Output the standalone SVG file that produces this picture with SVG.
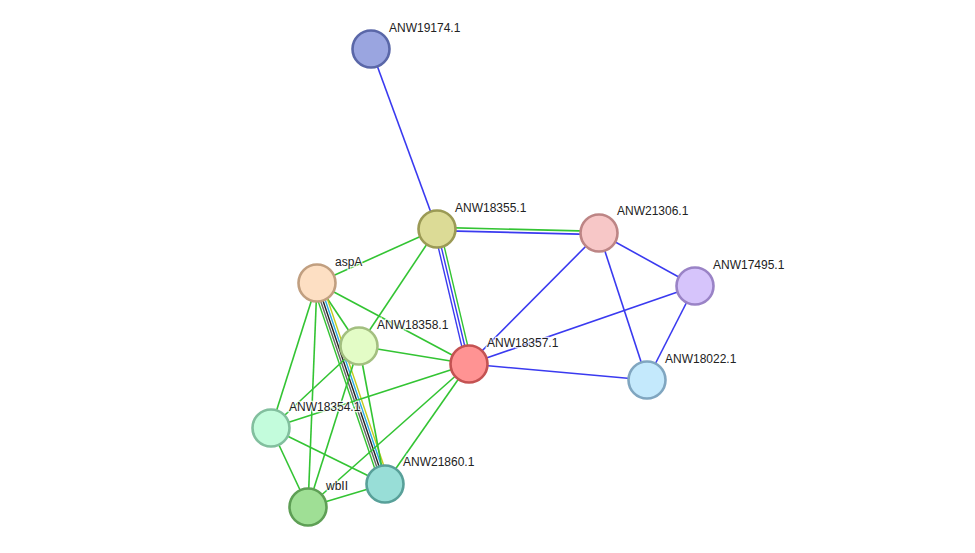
<svg xmlns="http://www.w3.org/2000/svg" width="975" height="553" viewBox="0 0 975 553">
<style>
.e{stroke-width:1.6;fill:none}
.m{stroke-width:1.4}
.g{stroke:#33c433}
.b{stroke:#3a3af0}
.n{stroke-width:2.6}
.t{font-family:"Liberation Sans",Arial,sans-serif;font-size:12px;fill:#222;stroke:#fff;stroke-width:2.5;stroke-opacity:0.8;paint-order:stroke}
</style>
<rect width="975" height="553" fill="#fff"/>
<g id="edges">
<line class="e b" x1="371" y1="49" x2="437" y2="229"/>
<line class="e g" x1="437" y1="227.4" x2="599" y2="231.4"/>
<line class="e b" x1="437" y1="230.6" x2="599" y2="234.6"/>
<line class="e m b" x1="434.1" y1="229.7" x2="466.1" y2="364.7"/>
<line class="e m b" x1="437" y1="229" x2="469" y2="364"/>
<line class="e m g" x1="439.9" y1="228.3" x2="471.9" y2="363.3"/>
<line class="e g" x1="437" y1="229" x2="317" y2="283"/>
<line class="e g" x1="437" y1="229" x2="359" y2="346"/>
<line class="e b" x1="599" y1="233" x2="469" y2="364"/>
<line class="e b" x1="599" y1="233" x2="695" y2="286"/>
<line class="e b" x1="599" y1="233" x2="647" y2="380"/>
<line class="e b" x1="695" y1="286" x2="469" y2="364"/>
<line class="e b" x1="695" y1="286" x2="647" y2="380"/>
<line class="e b" x1="469" y1="364" x2="647" y2="380"/>
<line class="e g" x1="317" y1="283" x2="469" y2="364"/>
<line class="e g" x1="317" y1="283" x2="359" y2="346"/>
<line class="e g" x1="317" y1="283" x2="271" y2="428"/>
<line class="e g" x1="317" y1="283" x2="308" y2="507"/>
<line class="e m g" x1="312.5" y1="284.5" x2="380.5" y2="485.5"/>
<line class="e m" stroke="#666" x1="314.8" y1="283.7" x2="382.8" y2="484.7"/>
<line class="e m" stroke="#222" x1="317" y1="283" x2="385" y2="484"/>
<line class="e m" stroke="#29abe2" x1="319.2" y1="282.3" x2="387.2" y2="483.3"/>
<line class="e m" stroke="#c4cc1e" x1="321.5" y1="281.5" x2="389.5" y2="482.5"/>
<line class="e g" x1="359" y1="346" x2="469" y2="364"/>
<line class="e g" x1="359" y1="346" x2="271" y2="428"/>
<line class="e g" x1="359" y1="346" x2="308" y2="507"/>
<line class="e g" x1="359" y1="346" x2="385" y2="484"/>
<line class="e g" x1="469" y1="364" x2="271" y2="428"/>
<line class="e g" x1="469" y1="364" x2="308" y2="507"/>
<line class="e g" x1="469" y1="364" x2="385" y2="484"/>
<line class="e g" x1="271" y1="428" x2="308" y2="507"/>
<line class="e g" x1="271" y1="428" x2="385" y2="484"/>
<line class="e g" x1="308" y1="507" x2="385" y2="484"/>
</g>
<g id="ANW19174.1"><circle class="n" cx="371" cy="49" r="18.5" fill="#9aa5e0" stroke="#5a67a8"/><text class="t" x="389" y="32">ANW19174.1</text></g>
<g id="ANW18355.1"><circle class="n" cx="437" cy="229" r="18.5" fill="#dcdb96" stroke="#9b9a55"/><text class="t" x="455" y="212">ANW18355.1</text></g>
<g id="ANW21306.1"><circle class="n" cx="599" cy="233" r="18.5" fill="#f7c7c7" stroke="#bd8585"/><text class="t" x="617" y="215">ANW21306.1</text></g>
<g id="ANW17495.1"><circle class="n" cx="695" cy="286" r="18.5" fill="#d6c4fb" stroke="#9a83c6"/><text class="t" x="713" y="269">ANW17495.1</text></g>
<g id="aspA"><circle class="n" cx="317" cy="283" r="18.5" fill="#fddfc3" stroke="#c19f80"/><text class="t" x="335" y="266">aspA</text></g>
<g id="ANW18358.1"><circle class="n" cx="359" cy="346" r="18.5" fill="#e3fcc6" stroke="#a3bf80"/><text class="t" x="377" y="329">ANW18358.1</text></g>
<g id="ANW18357.1"><circle class="n" cx="469" cy="364" r="18.5" fill="#ff9393" stroke="#c45252"/><text class="t" x="487" y="347">ANW18357.1</text></g>
<g id="ANW18022.1"><circle class="n" cx="647" cy="380" r="18.5" fill="#c4e9fc" stroke="#80a6c0"/><text class="t" x="665" y="363">ANW18022.1</text></g>
<g id="ANW18354.1"><circle class="n" cx="271" cy="428" r="18.5" fill="#c3fcdc" stroke="#82bf9e"/><text class="t" x="289" y="411">ANW18354.1</text></g>
<g id="ANW21860.1"><circle class="n" cx="385" cy="484" r="18.5" fill="#98ded7" stroke="#58a099"/><text class="t" x="403" y="466">ANW21860.1</text></g>
<g id="wbII"><circle class="n" cx="308" cy="507" r="18.5" fill="#9fdf95" stroke="#5e9f55"/><text class="t" x="326" y="490">wbII</text></g>
</svg>
